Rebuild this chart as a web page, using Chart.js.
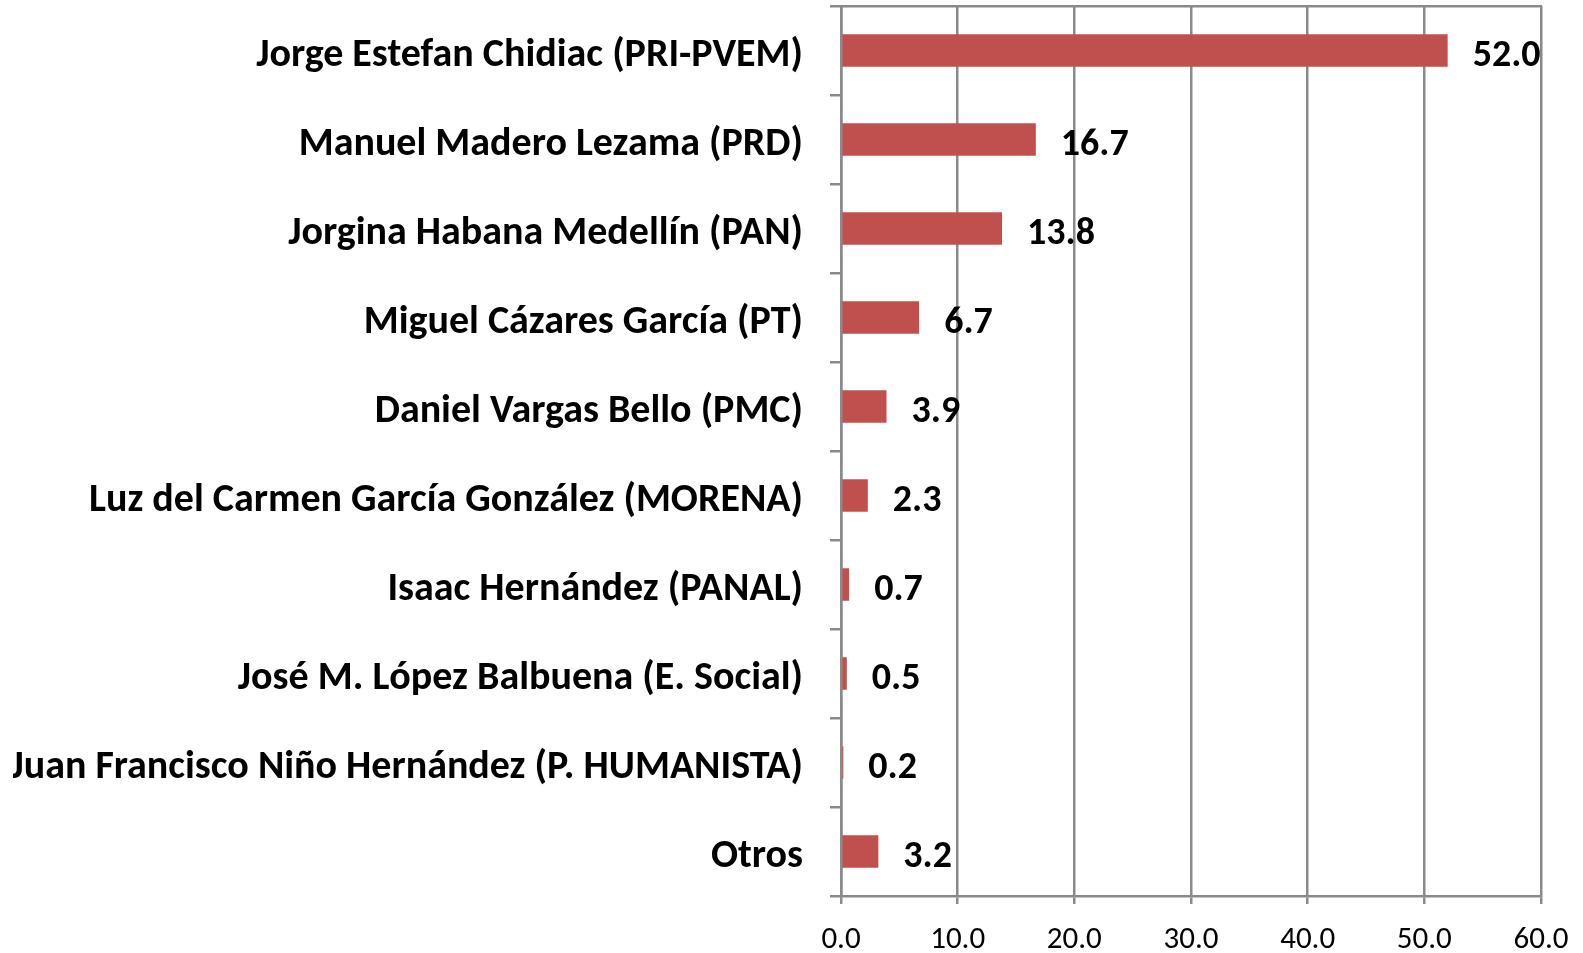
<!DOCTYPE html>
<html><head><meta charset="utf-8">
<script src="https://cdn.jsdelivr.net/npm/chart.js@4/dist/chart.umd.min.js"></script>
<style>html,body{margin:0;padding:0;background:#fff;overflow:hidden}#wrap{position:relative;width:1583px;height:953px}</style>
</head><body><div id="wrap"><canvas id="c"></canvas></div>
<script>
const categories = [
  'Jorge Estefan Chidiac (PRI-PVEM)',
  'Manuel Madero Lezama (PRD)',
  'Jorgina Habana Medellín (PAN)',
  'Miguel Cázares García (PT)',
  'Daniel Vargas Bello (PMC)',
  'Luz del Carmen García González (MORENA)',
  'Isaac Hernández (PANAL)',
  'José M. López Balbuena (E. Social)',
  'Juan Francisco Niño Hernández (P. HUMANISTA)',
  'Otros'
];
const values = [52.0, 16.7, 13.8, 6.7, 3.9, 2.3, 0.7, 0.5, 0.2, 3.2];
const xTickValues = [0, 10, 20, 30, 40, 50, 60];
const xTickLabels = ['0.0', '10.0', '20.0', '30.0', '40.0', '50.0', '60.0'];

const FONT = 'Carlito, "Open Sans", sans-serif';
const GRID = '#8a8a8a';

const valueLabels = {
  id: 'valueLabels',
  afterDatasetsDraw(chart) {
    const ctx = chart.ctx;
    const meta = chart.getDatasetMeta(0);
    ctx.save();
    ctx.font = 'bold 38px ' + FONT;
    ctx.fillStyle = '#000';
    ctx.textAlign = 'left';
    ctx.textBaseline = 'middle';
    meta.data.forEach((bar, i) => {
      ctx.fillText(values[i].toFixed(1), bar.x + 25, bar.y + 6);
    });
    ctx.restore();
  }
};

new Chart(document.getElementById('c'), {
  type: 'bar',
  data: {
    labels: categories,
    datasets: [{
      data: values,
      backgroundColor: '#C0504D',
      borderWidth: 0,
      barPercentage: 0.365,
      categoryPercentage: 1.0
    }]
  },
  plugins: [valueLabels],
  options: {
    indexAxis: 'y',
    responsive: true,
    maintainAspectRatio: false,
    animation: false,
    devicePixelRatio: 1,
    layout: { padding: { left: 13, right: 42, top: 6, bottom: 0 } },
    plugins: { legend: { display: false }, tooltip: { enabled: false } },
    scales: {
      x: {
        type: 'linear',
        position: 'bottom',
        min: 0, max: 60,
        afterBuildTicks(scale) { scale.ticks = xTickValues.map(v => ({ value: v })); },
        ticks: {
          callback: (v, i) => xTickLabels[i],
          color: '#000',
          font: { family: FONT, size: 31 },
          padding: 18,
          maxRotation: 0
        },
        grid: { color: GRID, lineWidth: 2.5, tickLength: 8, drawTicks: true },
        border: { display: true, color: GRID, width: 2.5 },
        afterFit(scale) { scale.height = 57; scale.paddingLeft = 0; scale.paddingRight = 0; }
      },
      x2: {
        type: 'linear',
        position: 'top',
        display: true,
        min: 0, max: 60,
        ticks: { display: false },
        grid: { display: false, drawTicks: false },
        border: { display: true, color: GRID, width: 2.5 }
      },
      y: {
        type: 'category',
        offset: true,
        ticks: {
          color: '#000',
          font: { family: FONT, size: 40, weight: 'bold' },
          padding: 27,
          labelOffset: 5,
          autoSkip: false
        },
        grid: { display: true, drawOnChartArea: false, color: GRID, lineWidth: 2.5, tickLength: 11, offset: true },
        border: { display: true, color: GRID, width: 2.5 },
        afterFit(scale) { scale.width = 828; scale.paddingTop = 0; scale.paddingBottom = 0; }
      }
    }
  }
});
</script>
</body></html>
